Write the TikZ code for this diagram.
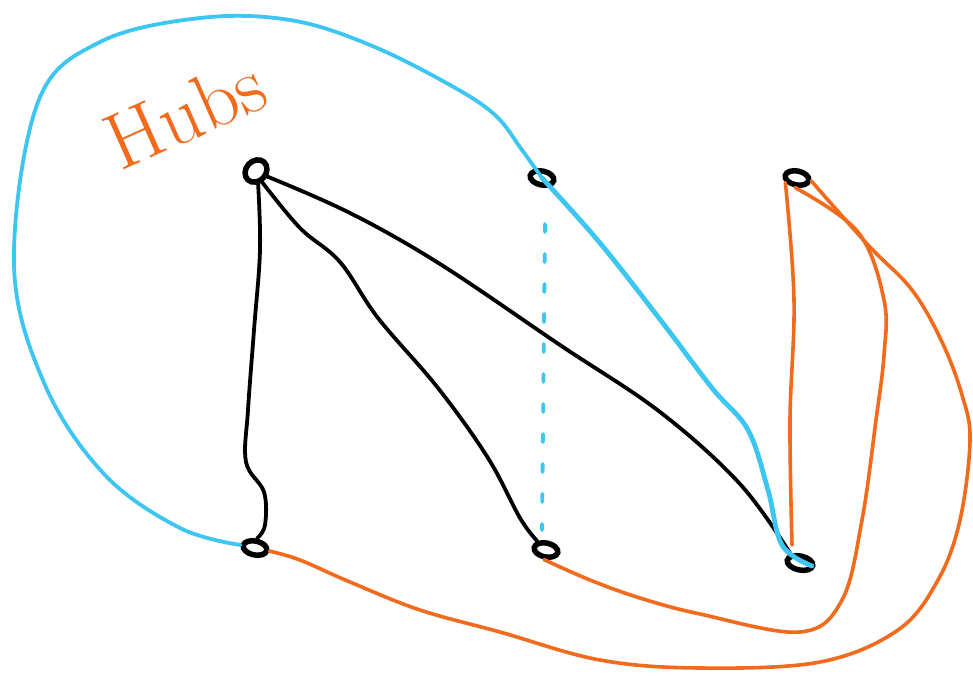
\documentclass[tikz,border=0pt]{standalone}
\usetikzlibrary{shapes.geometric}
\definecolor{skyb}{HTML}{3DC6F2}
\definecolor{orng}{HTML}{F26A1B}
\begin{document}
\begin{tikzpicture}[x=1pt,y=-1pt,
  hub/.style={draw=black, ellipse, line width=5.5pt, minimum width=24pt, minimum height=14pt, inner sep=0pt, rotate=-12},
  blk/.style={draw=black, line width=3.8pt, line cap=round, line join=round},
  blu/.style={draw=skyb, line width=3.8pt, line cap=round, line join=round},
  org/.style={draw=orng, line width=3.6pt, line cap=round, line join=round}]
\useasboundingbox (0,0) rectangle (973,676);
\fill[white] (0,0) rectangle (973,676);
% hubs
\node[hub, minimum height=20pt, rotate=60] (A) at (256,171) {};
\node[hub] (B) at (542,178) {};
\node[hub] (C) at (797,178) {};
\node[hub] (D) at (255,548) {};
\node[hub] (E) at (546,550) {};
\node[hub, minimum width=26pt] (F) at (800,563) {};
% label
\node[text=orng, rotate=24, font=\fontsize{80}{80}\selectfont, inner sep=0pt] (title) at (185,113) {Hubs};
% black edges
\draw[blk] plot[smooth, tension=0.6] coordinates {(258,182) (260,250) (254,330) (248,410) (246,462) (264,492) (265,525) (D.north)};
\draw[blk] plot[smooth, tension=0.6] coordinates {(262,182) (300,228) (340,262) (378,318) (438,388) (488,458) (520,518) (E.north west)};
\draw[blk] plot[smooth, tension=0.6] coordinates {(266,176) (350,213) (440,264) (560,345) (660,412) (740,484) (F.north west)};
% blue loop D -> B -> F
\draw[blu] plot[smooth, tension=0.6] coordinates {(D.west) (180,528) (105,475) (45,385) (14,265) (38,102) (100,42) (200,18) (290,20) (370,45) (450,85) (495,115) (522,150) (B.center)};
\draw[blu, line width=4.8pt] plot[smooth, tension=0.6] coordinates {(B.center) (600,243) (662,322) (712,388) (748,430) (768,490) (782,545) (812,566)};
% blue dashed B -- E
\draw[blu, dash pattern=on 8pt off 22pt] (545,224) -- (542,530);
% orange edges
\draw[org] plot[smooth, tension=0.6] coordinates {(C.south west) (794,300) (790,420) (792,545)};
\draw[org] plot[smooth, tension=0.6] coordinates {(C.south) (858,232) (884,300) (884,355) (876,420) (862,520) (842,600) (800,632) (700,614) (640,598) (590,580) (E.south)};
\draw[org] plot[smooth, tension=0.6] coordinates {(C.east) (868,245) (912,290) (942,342) (962,395) (970,440) (960,520) (938,580) (898,630) (820,662) (700,668) (600,660) (500,632) (420,610) (350,582) (300,560) (D.east)};
\end{tikzpicture}
\end{document}
